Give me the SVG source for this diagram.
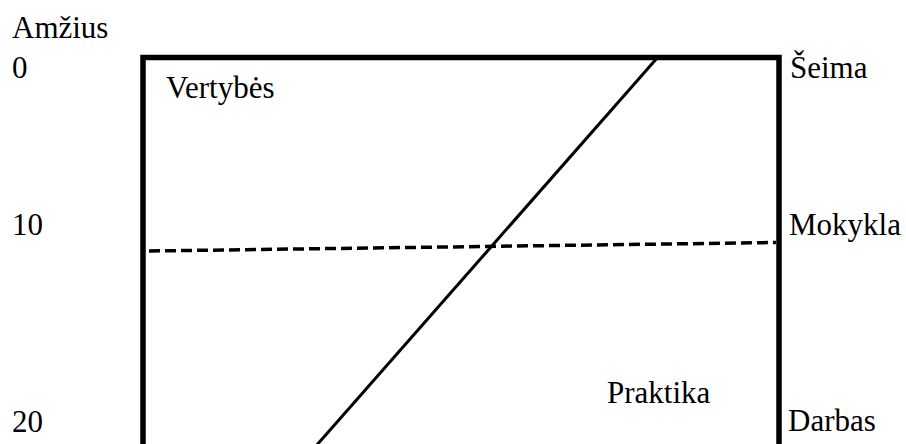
<svg xmlns="http://www.w3.org/2000/svg" width="906" height="444" viewBox="0 0 906 444">
  <style>
    text { font-family: "Liberation Serif", "Times New Roman", serif; font-size: 31px; fill: #000; }
    .frame { fill: none; stroke: #000; stroke-width: 5.5; stroke-linejoin: miter; }
    .diag { stroke: #000; stroke-width: 3; fill: none; }
    .dash { stroke: #000; stroke-width: 3.5; stroke-dasharray: 11 5; fill: none; }
  </style>
  <rect width="906" height="444" fill="#fff"/>

  <!-- age axis labels -->
  <g id="axis-age">
    <text x="12" y="38">Amžius</text>
    <text x="12" y="78">0</text>
    <text x="12" y="235">10</text>
    <text x="12" y="432">20</text>
  </g>

  <!-- main frame (open at the bottom edge of the view) -->
  <g id="frame">
    <path class="frame" d="M143,450 V57.5 H779 V450"/>
  </g>

  <!-- dividing lines -->
  <g id="connectors">
    <line class="diag" x1="658" y1="57" x2="316" y2="446"/>
    <line class="dash" x1="149" y1="251" x2="776" y2="242.5"/>
  </g>

  <!-- region labels -->
  <g id="region-values">
    <text x="166" y="98">Vertybės</text>
  </g>
  <g id="region-practice">
    <text x="607" y="403">Praktika</text>
  </g>

  <!-- institution labels -->
  <g id="label-family">
    <text x="790" y="78">Šeima</text>
  </g>
  <g id="label-school">
    <text x="789" y="235">Mokykla</text>
  </g>
  <g id="label-work">
    <text x="788" y="431">Darbas</text>
  </g>
</svg>
